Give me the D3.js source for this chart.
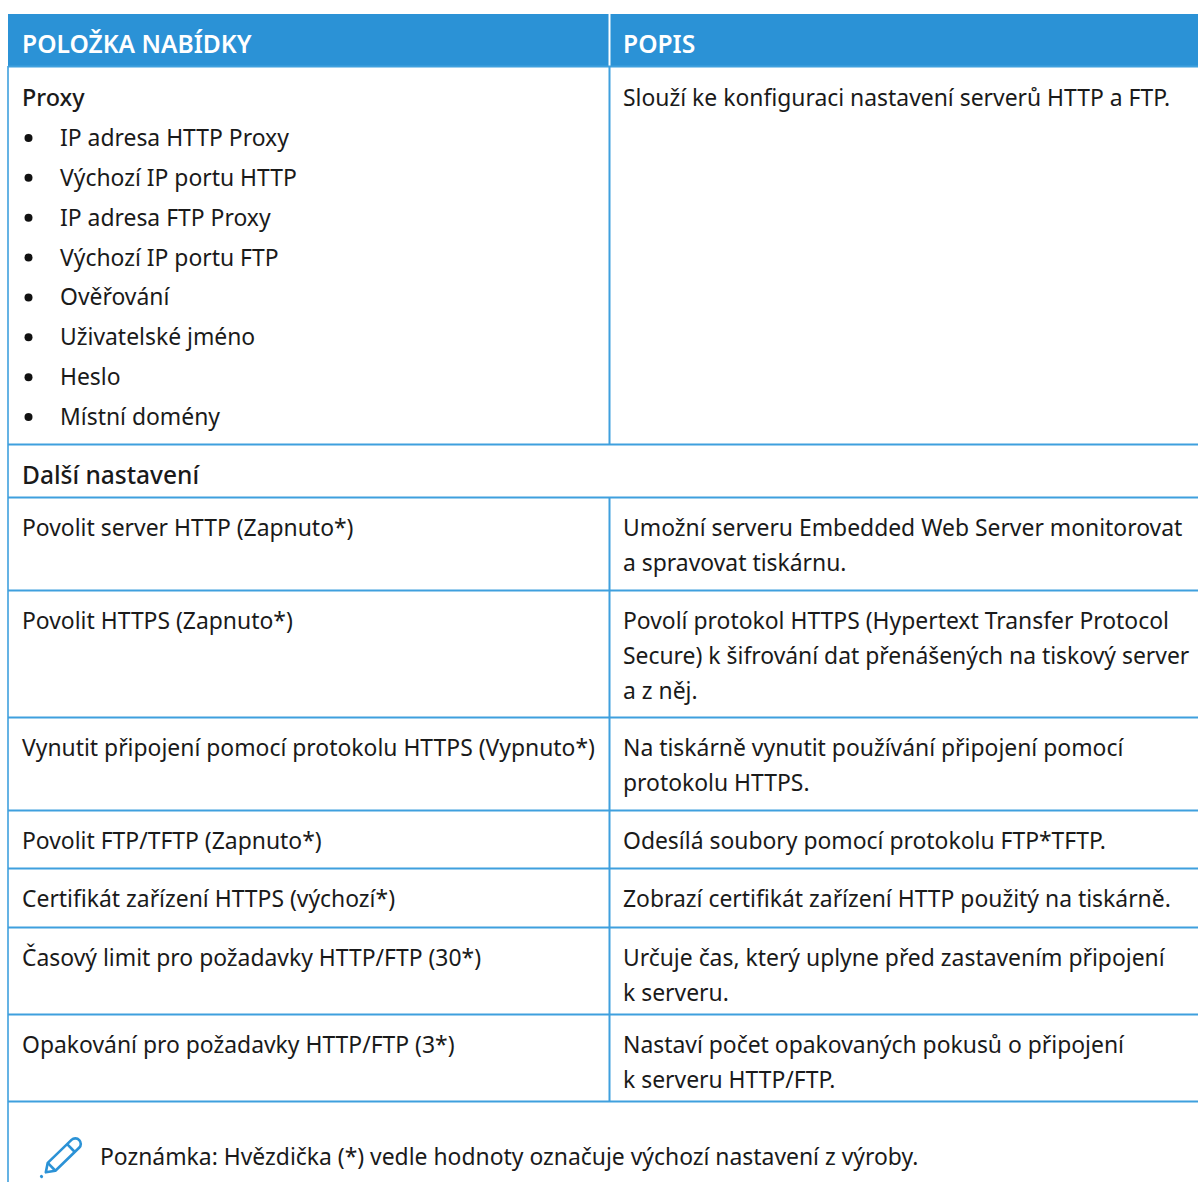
<!DOCTYPE html>
<html>
<head>
<meta charset="utf-8">
<script src="https://cdn.jsdelivr.net/npm/d3@7"></script>
<style>
  html, body { margin: 0; padding: 0; background: #fff; overflow: hidden; }
  svg { display: block; }
  text { font-family: "Noto Sans", sans-serif; fill: #1a1a1a; }
</style>
</head>
<body>
<div id="chart"></div>
<script>
const headers = ["POLOŽKA NABÍDKY", "POPIS"];
const proxyTitle = "Proxy";
const proxyItems = [
  "IP adresa HTTP Proxy",
  "Výchozí IP portu HTTP",
  "IP adresa FTP Proxy",
  "Výchozí IP portu FTP",
  "Ověřování",
  "Uživatelské jméno",
  "Heslo",
  "Místní domény",
];
const proxyDescription = "Slouží ke konfiguraci nastavení serverů HTTP a FTP.";
const sectionTitle = "Další nastavení";
const settingNames = [
  "Povolit server HTTP (Zapnuto*)",
  "Povolit HTTPS (Zapnuto*)",
  "Vynutit připojení pomocí protokolu HTTPS (Vypnuto*)",
  "Povolit FTP/TFTP (Zapnuto*)",
  "Certifikát zařízení HTTPS (výchozí*)",
  "Časový limit pro požadavky HTTP/FTP (30*)",
  "Opakování pro požadavky HTTP/FTP (3*)",
];
const settingDescriptions = [
  ["Umožní serveru Embedded Web Server monitorovat", "a spravovat tiskárnu."],
  ["Povolí protokol HTTPS (Hypertext Transfer Protocol", "Secure) k šifrování dat přenášených na tiskový server", "a z něj."],
  ["Na tiskárně vynutit používání připojení pomocí", "protokolu HTTPS."],
  ["Odesílá soubory pomocí protokolu FTP*TFTP."],
  ["Zobrazí certifikát zařízení HTTP použitý na tiskárně."],
  ["Určuje čas, který uplyne před zastavením připojení", "k serveru."],
  ["Nastaví počet opakovaných pokusů o připojení", "k serveru HTTP/FTP."],
];
const note = "Poznámka: Hvězdička (*) vedle hodnoty označuje výchozí nastavení z výroby.";

const width = 1198, height = 1182;
const blue = "#2b92d6", rule = "#3fa0de";
const left = 8, mid = 609.5, textA = 22, textB = 623, bulletText = 60, bulletX = 28.5;
const headTop = 14, headBottom = 66, proxyBottom = 444, sectionBottom = 497;
const fontSize = 22.9;

// setting rows: height follows the number of lines
const rowHeights = [93, 127, 93, 58, 59, 87, 87];
const rowEdges = Array.from(d3.cumsum(rowHeights));
const rowTop = (i) => sectionBottom + (i ? rowEdges[i - 1] : 0);
const tableBottom = sectionBottom + rowEdges[rowEdges.length - 1];

const itemY = d3.scalePoint().domain(proxyItems).range([146, 425]);

const svg = d3.select("#chart").append("svg").attr("width", width).attr("height", height);

// header band
svg.append("rect").attr("x", left).attr("y", headTop).attr("width", width - left)
  .attr("height", headBottom - headTop).attr("fill", blue);
svg.append("line").attr("x1", mid).attr("x2", mid).attr("y1", headTop).attr("y2", headBottom)
  .attr("stroke", "#fff").attr("stroke-width", 2);
svg.selectAll("text.head").data(headers).join("text").attr("class", "head")
  .attr("x", (d, i) => (i ? textB : textA)).attr("y", 53)
  .attr("font-size", 24.6).attr("font-weight", 600).style("fill", "#fff").text((d) => d);

// rules
const hLines = [headBottom, proxyBottom, sectionBottom].concat(rowEdges.map((d) => sectionBottom + d));
svg.selectAll("line.h").data(hLines).join("line").attr("class", "h")
  .attr("x1", left).attr("x2", width).attr("y1", (d) => d + 0.5).attr("y2", (d) => d + 0.5)
  .attr("stroke", rule).attr("stroke-width", 2);
svg.append("line").attr("x1", left).attr("x2", left).attr("y1", headBottom).attr("y2", height)
  .attr("stroke", rule).attr("stroke-width", 1.6);
const midSpans = [[headBottom, proxyBottom], [sectionBottom, tableBottom]];
svg.selectAll("line.mid").data(midSpans).join("line").attr("class", "mid")
  .attr("x1", mid).attr("x2", mid).attr("y1", (d) => d[0]).attr("y2", (d) => d[1])
  .attr("stroke", rule).attr("stroke-width", 2);

// proxy row
svg.append("text").attr("x", textA).attr("y", 106).attr("font-size", 23.4).attr("font-weight", 500).text(proxyTitle);
svg.selectAll("circle.bullet").data(proxyItems).join("circle").attr("class", "bullet")
  .attr("cx", bulletX).attr("cy", (d) => itemY(d) - 8).attr("r", 4).attr("fill", "#111");
svg.selectAll("text.item").data(proxyItems).join("text").attr("class", "item")
  .attr("x", bulletText).attr("y", (d) => itemY(d)).attr("font-size", fontSize).text((d) => d);
svg.append("text").attr("x", textB).attr("y", 106).attr("font-size", fontSize).text(proxyDescription);

// section row
svg.append("text").attr("x", textA).attr("y", 484).attr("font-size", 24.5).attr("font-weight", 500).text(sectionTitle);

// setting rows
svg.selectAll("text.name").data(settingNames).join("text").attr("class", "name")
  .attr("x", textA).attr("y", (d, i) => rowTop(i) + 39).attr("font-size", fontSize).text((d) => d);
settingDescriptions.forEach((lines, i) => {
  svg.selectAll("text.desc" + i).data(lines).join("text").attr("class", "desc" + i)
    .attr("x", textB).attr("y", (d, j) => rowTop(i) + 39 + j * 35)
    .attr("font-size", fontSize).text((d) => d);
});

// note with pencil icon
const pencil = svg.append("g").attr("transform", "translate(41.5,1176.5) rotate(-44)")
  .attr("fill", "none").attr("stroke", blue).attr("stroke-width", 2.6).attr("stroke-linejoin", "round");
pencil.append("path").attr("d", "M14,-5.5 L47,-5.5 A5.5,5.5 0 0 1 47,5.5 L14,5.5 L6,0 Z");
pencil.append("line").attr("x1", 41).attr("x2", 41).attr("y1", -5.5).attr("y2", 5.5);
pencil.append("line").attr("x1", 14).attr("x2", 14).attr("y1", -5.5).attr("y2", 5.5);
pencil.append("circle").attr("r", 1.6).attr("fill", blue).attr("stroke", "none");
svg.append("text").attr("x", 100).attr("y", 1165).attr("font-size", fontSize).text(note);
</script>
</body>
</html>
